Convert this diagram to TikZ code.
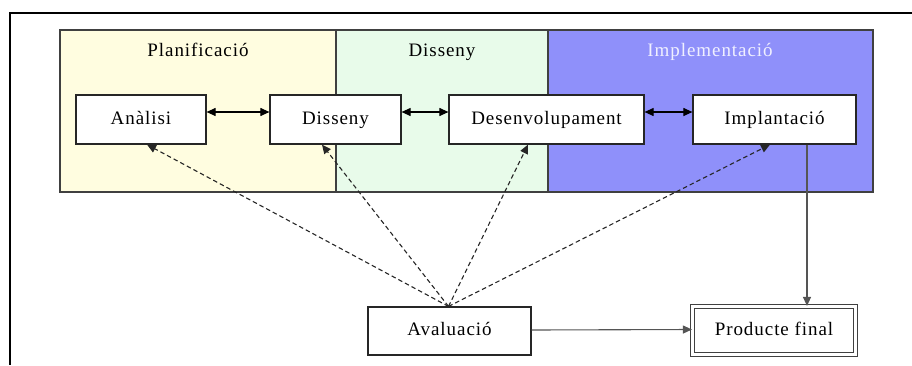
\documentclass[tikz,border=0pt]{standalone}
\usepackage{fontspec}
\setmainfont[LetterSpace=5]{Liberation Serif}
\usetikzlibrary{arrows.meta}
\definecolor{panelY}{HTML}{FFFDE0}
\definecolor{panelG}{HTML}{E8FBEA}
\definecolor{panelB}{HTML}{8F90FA}
\definecolor{edgegray}{HTML}{404040}
\definecolor{linegray}{HTML}{555555}
\begin{document}
\begin{tikzpicture}[x=1pt,y=-1pt,
  box/.style={draw=black!85, line width=1.2pt, fill=white, inner sep=0pt, text height=13pt, text depth=4pt, font=\fontsize{19}{21}\selectfont},
  panel/.style={draw=edgegray, line width=1.1pt},
  ptitle/.style={inner sep=0pt, text height=13pt, text depth=4pt, font=\fontsize{19}{21}\selectfont},
  tip/.style={-{Triangle[length=9pt,width=8pt]}},
  biarrow/.style={{Triangle[length=9pt,width=8pt]}-{Triangle[length=9pt,width=8pt]}, line width=1.1pt, black},
  evarrow/.style={tip, dashed, dash pattern=on 4.5pt off 3pt, line width=1.1pt, black!85},
  flow/.style={tip, line width=1.1pt, linegray}
]
\useasboundingbox (0,0) rectangle (912,365);
% outer frame
\draw[line width=1.4pt, black] (912,13) -- (10,13) -- (10,365);
% panels
\draw[panel, fill=panelY] (60,30) rectangle (336,192);
\draw[panel, fill=panelG] (336,30) rectangle (548,192);
\draw[panel, fill=panelB] (548,30) rectangle (873,192);
\node[ptitle] (t1) at (198,52) {Planificació};
\node[ptitle] (t2) at (442,52) {Disseny};
\node[ptitle, text=white!94!blue] (t3) at (710,52) {Implementació};
% boxes
\node[box, minimum width=130pt, minimum height=49pt] (an) at (141,119.5) {Anàlisi};
\node[box, minimum width=131pt, minimum height=49pt] (di) at (335.5,119.5) {Disseny};
\node[box, minimum width=195pt, minimum height=49pt] (de) at (546.5,119.5) {Desenvolupament};
\node[box, minimum width=163pt, minimum height=49pt] (im) at (774.5,119.5) {Implantació};
\node[box, minimum width=163pt, minimum height=48pt] (ev) at (449.5,331) {Avaluació};
\node[box, draw=black!75, double=white, double distance=2.4pt, line width=1.1pt, minimum width=163pt, minimum height=48pt] (pf) at (774,330.5) {Producte final};
% bidirectional arrows
\draw[biarrow] ([yshift=7.5pt]an.east) -- ([yshift=7.5pt]di.west);
\draw[biarrow] ([yshift=7.5pt]di.east) -- ([yshift=7.5pt]de.west);
\draw[biarrow] ([yshift=7.5pt]de.east) -- ([yshift=7.5pt]im.west);
% evaluation arrows
\draw[evarrow] ([xshift=-1pt]ev.north) -- ([xshift=6pt]an.south);
\draw[evarrow] ([xshift=-1pt]ev.north) -- ([xshift=-13.5pt]di.south);
\draw[evarrow] ([xshift=-1pt]ev.north) -- ([xshift=-18.5pt]de.south);
\draw[evarrow] ([xshift=-1pt]ev.north) -- ([xshift=-4.5pt]im.south);
% flow to final product
\coordinate (vx) at (807,0);
\draw[flow] (im.south -| vx) -- (pf.north -| vx);
\draw[flow] ([yshift=1pt]ev.east) -- ([yshift=1pt]pf.west);
\end{tikzpicture}
\end{document}
